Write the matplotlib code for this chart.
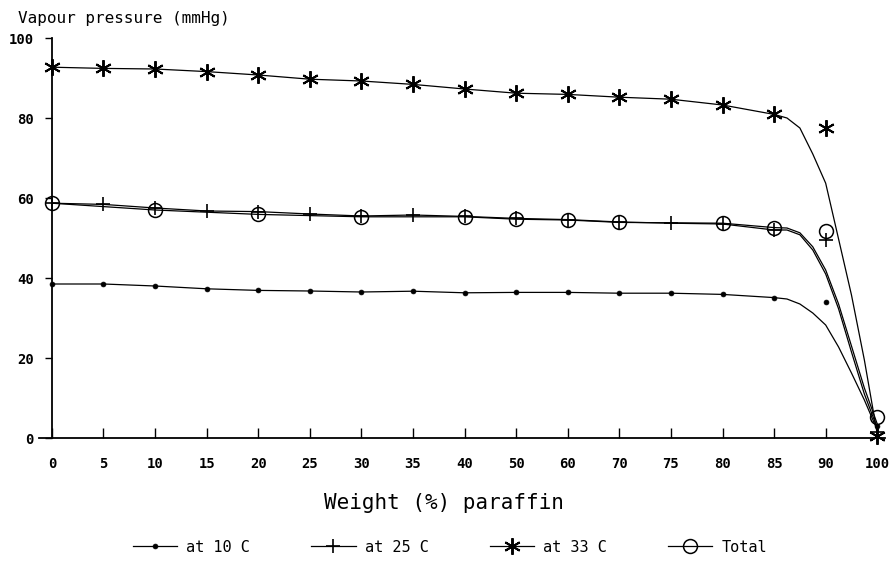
import numpy as np
import matplotlib.pyplot as plt
from matplotlib.lines import Line2D

# weight % paraffin (categorical axis, evenly spaced)
weights = [0, 5, 10, 15, 20, 25, 30, 35, 40, 50, 60, 70, 75, 80, 85, 90, 100]

# measured points
at10 = [38.5, 38.5, 38.0, 37.3, 36.9, 36.75, 36.5, 36.7, 36.3, 36.4, 36.4,
        36.2, 36.2, 35.9, 35.1, 34.1, 3.0]
at25 = [58.7, 58.4, 57.5, 56.75, 56.6, 56.0, 55.5, 55.75, 55.4, 54.9, 54.6,
        54.0, 53.7, 53.5, 52.0, 49.5, 1.5]
at33 = [92.7, 92.4, 92.25, 91.6, 90.75, 89.7, 89.25, 88.4, 87.25, 86.2, 85.9,
        85.2, 84.7, 83.25, 80.9, 77.4, 0.5]
total = [58.7, np.nan, 57.0, np.nan, 55.9, np.nan, 55.3, np.nan, 55.3, 54.7,
         54.5, 53.9, np.nan, 53.7, 52.6, 51.75, 5.25]

# fitted curves beyond 85 %
fit_w = [86.25, 87.5, 88.75, 90, 92.5, 95, 97.5, 100]
fit10 = [34.75, 33.5, 31.25, 28.25, 22.75, 16.25, 9.5, 2.0]
fit25 = [52.0, 50.8, 47.0, 41.0, 32.3, 21.5, 11.0, 2.5]
fit33 = [80.0, 77.5, 71.0, 63.7, 49.75, 35.75, 19.5, 1.0]
fit_total = [52.5, 51.3, 47.8, 42.0, 33.5, 23.0, 12.5, 3.5]

labels = ['at 10 C', 'at 25 C', 'at 33 C', 'Total']

mono = 'DejaVu Sans Mono'
plt.rcParams['font.family'] = mono

pos = np.arange(len(weights))
fit_pos = np.interp(fit_w, weights, pos)

fig = plt.figure(figsize=(8.93, 5.72), dpi=100)
ax = fig.add_axes([39/893, 1-438/572, (885-39)/893, 400/572])

styles = [
    dict(marker='o', ms=3.5, mfc='black', mec='black', mew=0.5),
    dict(marker='+', ms=10, mec='black', mew=1.2),
    dict(marker=(6, 2, 0), ms=12, mec='black', mew=1.4),
    dict(marker='o', ms=10, mfc='none', mec='black', mew=1.1),
]
series = [at10, at25, at33, total]
fits = [fit10, fit25, fit33, fit_total]

for vals, fit, st in zip(series, fits, styles):
    v = np.array(vals, dtype=float)
    keep = ~np.isnan(v[:15])
    lx = np.concatenate([pos[:15][keep], fit_pos])
    ly = np.concatenate([v[:15][keep], fit])
    ax.plot(lx, ly, color='black', lw=0.9, clip_on=False)
    ax.plot(pos, v, ls='none', color='black', clip_on=False, **st)

ax.set_xlim(-0.25, 16.15)
ax.set_ylim(0, 100)
ax.spines['top'].set_visible(False)
ax.spines['right'].set_visible(False)
ax.spines['left'].set_position(('data', 0))
ax.spines['left'].set_linewidth(1.3)
ax.spines['bottom'].set_linewidth(1.3)

ax.set_yticks([0, 20, 40, 60, 80, 100])
ax.tick_params(axis='y', direction='out', length=5, width=1, pad=8, labelsize=10)
ax.set_xticks(pos)
ax.set_xticklabels([str(w) for w in weights])
ax.tick_params(axis='x', direction='in', length=7, width=1, pad=14, labelsize=10)
for t in ax.get_xticklabels() + ax.get_yticklabels():
    t.set_fontweight('bold')

fig.text(18/893, 1-18/572, 'Vapour pressure (mmHg)', ha='left', va='center',
         fontsize=11.5)
fig.text(444/893, 1-503/572, 'Weight (%) paraffin', ha='center', va='center',
         fontsize=15)

handles = [Line2D([], [], color='black', lw=0.9, **st) for st in styles]
fig.legend(handles, labels, loc='center', bbox_to_anchor=(450/893, 1-547/572),
           ncol=4, frameon=False, fontsize=11, handlelength=2.9,
           handletextpad=0.6, columnspacing=4, numpoints=1)

fig.savefig('out.png', dpi=100)
